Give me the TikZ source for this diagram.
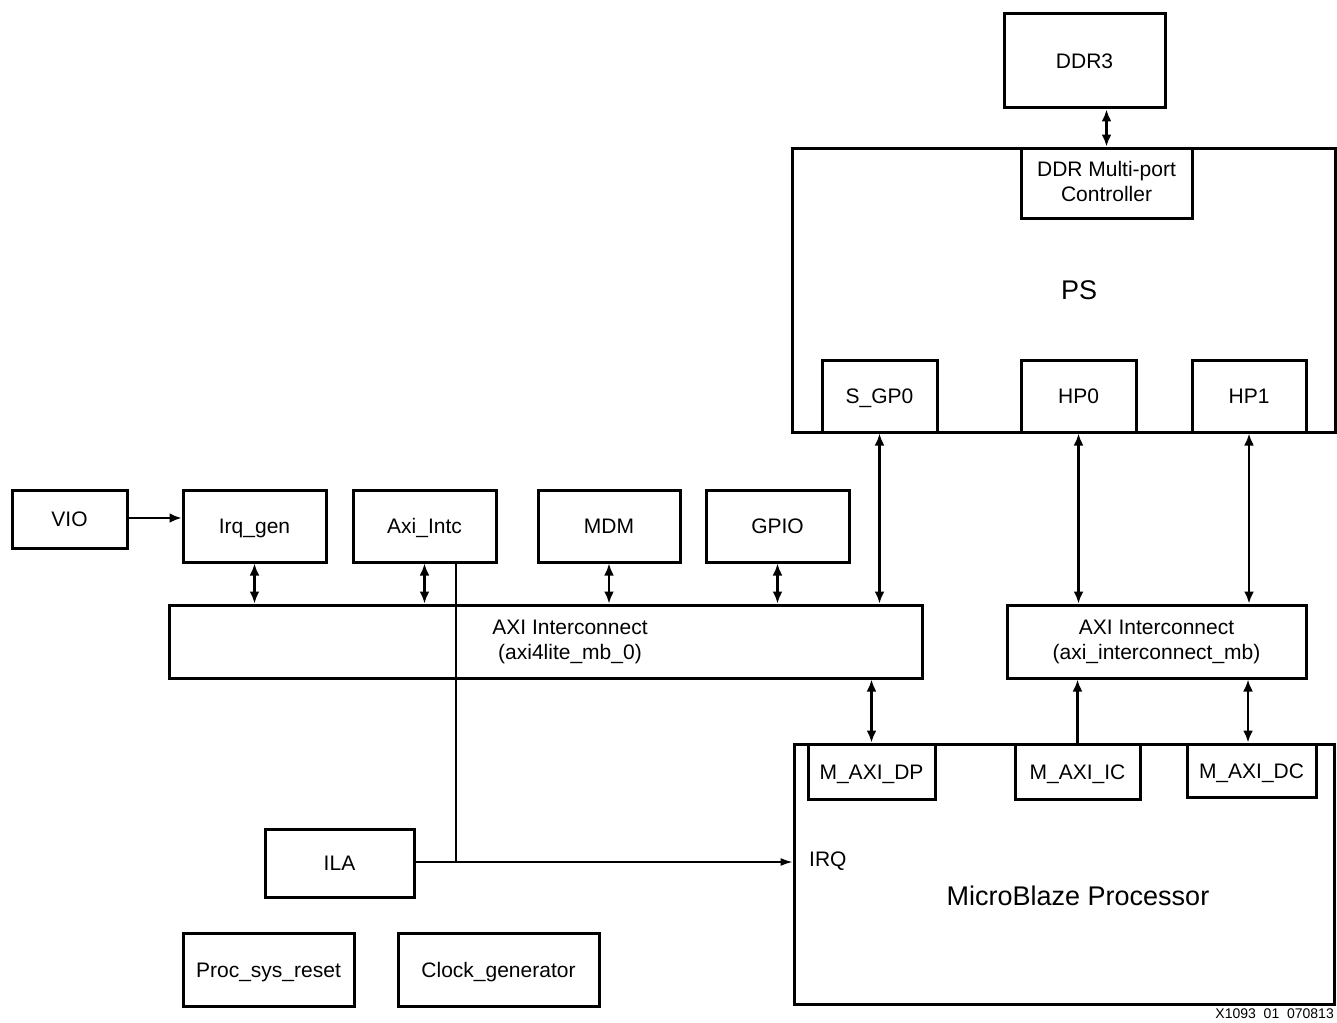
\documentclass[tikz,border=0pt]{standalone}
\usepackage{fontspec}
\setmainfont{Liberation Sans}
\usetikzlibrary{arrows.meta}
\begin{document}
\begin{tikzpicture}[x=1pt,y=-1pt,
  blk/.style={draw=black,line width=3pt,inner sep=0pt,align=center,font=\fontsize{21}{25}\selectfont},
  one/.style={text height=16pt,text depth=1pt},
  big/.style={draw=black,line width=3pt,inner sep=0pt},
  dbl/.style={line width=2.4pt,{Latex[length=12pt,width=10pt]}-{Latex[length=12pt,width=10pt]}},
  sgl/.style={line width=2.4pt,-{Latex[length=12pt,width=10pt]}},
  thin/.style={line width=1.5pt},
  thinarr/.style={line width=1.5pt,-{Latex[length=12pt,width=8pt]}},
  lbl/.style={font=\fontsize{21}{25}\selectfont,align=center,inner sep=0pt}]
\useasboundingbox (0,0) rectangle (1337,1022);
% PS
\node[big,minimum width=543pt,minimum height=284pt] (ps) at (1063.5,290) {};
\node[lbl,font=\fontsize{27}{32}\selectfont] (pslbl) at (1079,290) {PS};
\node[blk,one,minimum width=161pt,minimum height=94pt] (ddr3) at (1084.5,61) {DDR3};
\node[blk,minimum width=171pt,minimum height=70pt] (ctrl) at (1106.5,183) {};
\node[lbl] (ctrltxt) at (1106.5,181) {DDR Multi-port\\Controller};
\node[blk,one,minimum width=115pt,minimum height=72pt] (sgp0) at (879.5,396) {S\_GP0};
\node[blk,one,minimum width=115pt,minimum height=72pt] (hp0) at (1078.5,396) {HP0};
\node[blk,one,minimum width=114pt,minimum height=72pt] (hp1) at (1249,396) {HP1};
% left row
\node[blk,one,minimum width=115pt,minimum height=58pt] (vio) at (69.5,519) {VIO};
\node[blk,one,minimum width=143pt,minimum height=72pt] (irqgen) at (254.5,526) {Irq\_gen};
\node[blk,one,minimum width=143pt,minimum height=72pt] (intc) at (424.5,526) {Axi\_Intc};
\node[blk,one,minimum width=142pt,minimum height=72pt] (mdm) at (609,526) {MDM};
\node[blk,one,minimum width=143pt,minimum height=72pt] (gpio) at (777.5,526) {GPIO};
\node[blk,minimum width=753pt,minimum height=73pt] (axil) at (545.5,641.5) {};
\node[lbl] (axiltxt) at (570,641.5) {AXI Interconnect\\(axi4lite\_mb\_0)};
\node[blk,minimum width=299pt,minimum height=73pt] (axir) at (1156.5,641.5) {AXI Interconnect\\(axi\_interconnect\_mb)};
% MicroBlaze
\node[big,minimum width=540pt,minimum height=260pt] (mb) at (1064,874) {};
\node[lbl,font=\fontsize{27}{32}\selectfont] (mblbl) at (1078,896) {MicroBlaze Processor};
\node[blk,one,minimum width=127pt,minimum height=55pt] (dp) at (871.5,771.5) {M\_AXI\_DP};
\node[blk,one,minimum width=125pt,minimum height=55pt] (ic) at (1077.5,771.5) {M\_AXI\_IC};
\node[blk,one,minimum width=129pt,minimum height=53pt] (dc) at (1251.5,770.5) {M\_AXI\_DC};
\node[lbl,anchor=west] (irq) at (809,861) {IRQ};
% bottom left
\node[blk,one,minimum width=149pt,minimum height=68pt] (ila) at (339.5,863) {ILA};
\node[blk,one,minimum width=171pt,minimum height=73pt] (rst) at (268.5,969.5) {Proc\_sys\_reset};
\node[blk,one,minimum width=201pt,minimum height=73pt] (clk) at (498.5,969.5) {Clock\_generator};
\node[font=\fontsize{14}{16}\selectfont,anchor=east,inner sep=0pt] (tag) at (1334,1014) {X1093\ \ 01\ \ 070813};
% connectors
\draw[dbl] (ddr3.south -| ctrl.north) -- (ctrl.north);
\draw[sgl] (vio.east |- 0,518) -- (irqgen.west |- 0,518);
\draw[dbl] (irqgen.south) -- (irqgen.south |- axil.north);
\draw[dbl] (intc.south) -- (intc.south |- axil.north);
\draw[dbl] (mdm.south) -- (mdm.south |- axil.north);
\draw[dbl] (gpio.south) -- (gpio.south |- axil.north);
\draw[dbl] (sgp0.south) -- (sgp0.south |- axil.north);
\draw[dbl] (hp0.south) -- (hp0.south |- axir.north);
\draw[dbl] (hp1.south) -- (hp1.south |- axir.north);
\draw[dbl] (dp.north |- axil.south) -- (dp.north);
\draw[sgl] (ic.north) -- (ic.north |- axir.south);
\draw[dbl] (1248,0 |- axir.south) -- (1248,0 |- dc.north);
\coordinate (j) at (456,862);
\draw[thin] (intc.south -| j) -- (j);
\draw[thinarr] (ila.east |- j) -- (mb.west |- j);
\end{tikzpicture}
\end{document}
